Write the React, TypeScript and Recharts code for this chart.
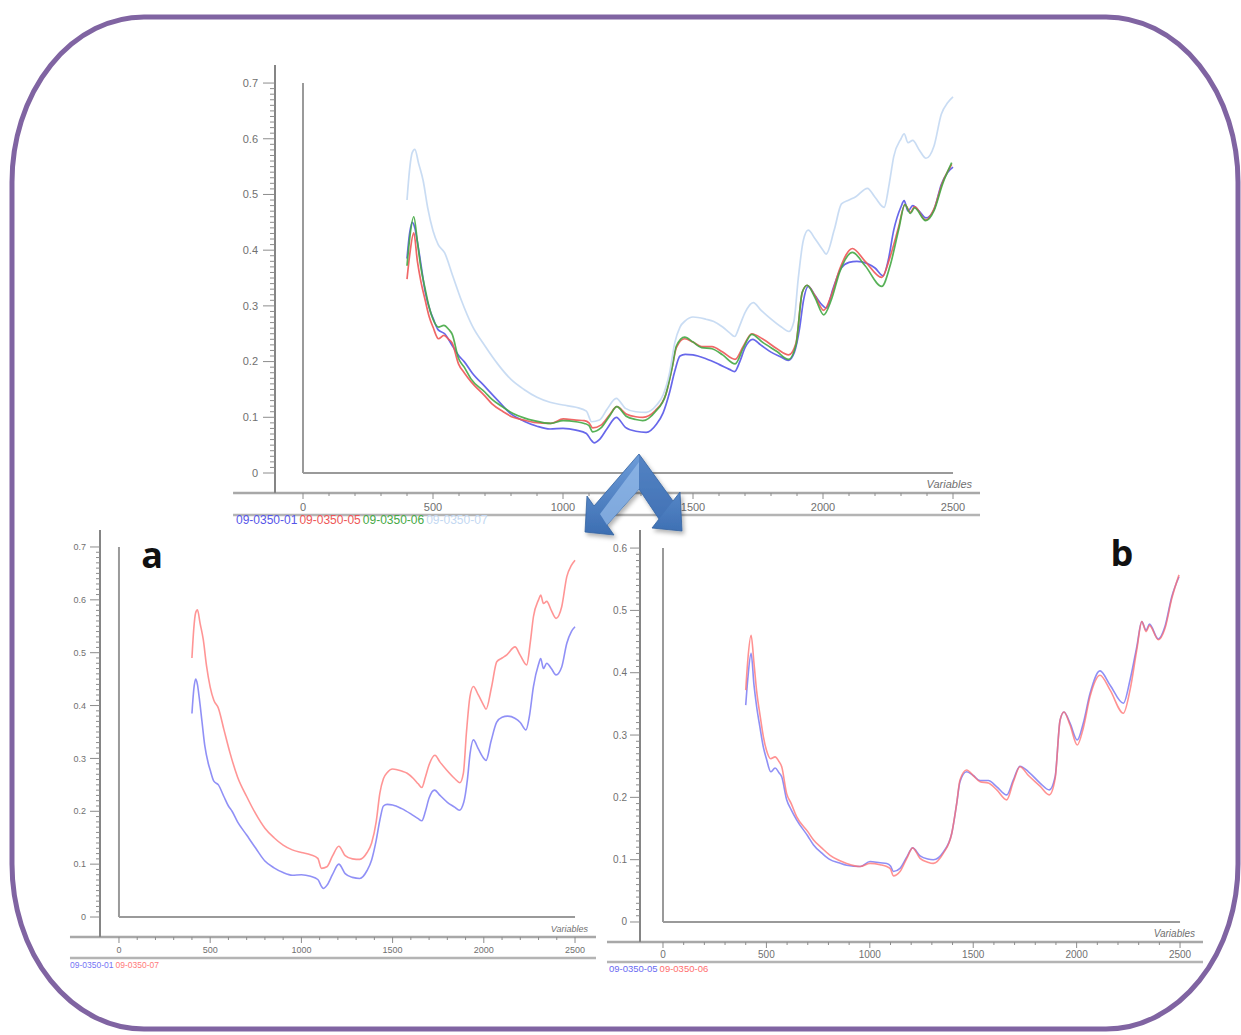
import React from 'react';
import { LineChart, Line, XAxis, YAxis, ReferenceLine, Legend, Label } from 'recharts';

// spectra (wavelength, absorbance)
const wl01 = [400, 410, 420, 430, 440, 455, 470, 490, 500, 520, 545, 575, 600, 620, 650, 700, 750, 800, 850, 900, 950, 1000, 1050, 1090, 1110, 1120, 1140, 1170, 1205, 1240, 1280, 1320, 1360, 1385, 1410, 1430, 1450, 1470, 1500, 1550, 1600, 1640, 1660, 1680, 1700, 1730, 1760, 1800, 1840, 1866, 1890, 1910, 1925, 1943, 1970, 2000, 2012, 2040, 2070, 2100, 2130, 2170, 2200, 2231, 2250, 2272, 2300, 2312, 2327, 2345, 2370, 2396, 2427, 2455, 2480, 2500];
const ab01 = [0.385, 0.43, 0.45, 0.44, 0.415, 0.37, 0.325, 0.29, 0.278, 0.257, 0.25, 0.228, 0.21, 0.2, 0.18, 0.155, 0.13, 0.106, 0.093, 0.084, 0.079, 0.08, 0.077, 0.071, 0.058, 0.054, 0.06, 0.08, 0.1, 0.082, 0.075, 0.073, 0.088, 0.108, 0.145, 0.183, 0.21, 0.213, 0.212, 0.205, 0.195, 0.186, 0.182, 0.2, 0.225, 0.24, 0.23, 0.217, 0.208, 0.202, 0.217, 0.26, 0.31, 0.335, 0.318, 0.3, 0.296, 0.333, 0.368, 0.378, 0.38, 0.376, 0.368, 0.354, 0.38, 0.436, 0.478, 0.489, 0.47, 0.48, 0.47, 0.458, 0.473, 0.518, 0.54, 0.549];

const wl07 = [400, 410, 420, 430, 445, 462, 480, 500, 520, 545, 575, 609, 650, 700, 750, 800, 850, 900, 950, 1000, 1050, 1090, 1110, 1140, 1170, 1205, 1240, 1280, 1320, 1360, 1385, 1410, 1430, 1450, 1470, 1500, 1550, 1580, 1614, 1640, 1660, 1680, 1700, 1732, 1760, 1796, 1840, 1869, 1888, 1905, 1924, 1943, 1970, 2000, 2012, 2043, 2071, 2100, 2126, 2171, 2200, 2235, 2255, 2272, 2300, 2312, 2327, 2345, 2370, 2396, 2427, 2455, 2480, 2500];
const ab07 = [0.49, 0.545, 0.575, 0.581, 0.555, 0.525, 0.475, 0.435, 0.41, 0.395, 0.355, 0.31, 0.265, 0.228, 0.195, 0.168, 0.15, 0.136, 0.127, 0.122, 0.118, 0.111, 0.092, 0.095, 0.115, 0.134, 0.116, 0.11, 0.109, 0.122, 0.14, 0.18, 0.234, 0.262, 0.273, 0.28, 0.276, 0.272, 0.262, 0.252, 0.245, 0.265, 0.288, 0.306, 0.293, 0.278, 0.262, 0.254, 0.272, 0.35, 0.417, 0.436, 0.42, 0.4, 0.393, 0.436, 0.483, 0.49, 0.496, 0.511, 0.495, 0.477, 0.52, 0.568, 0.6, 0.609, 0.593, 0.597, 0.58, 0.565, 0.587, 0.644, 0.665, 0.675];

const wl56 = [400, 410, 426, 440, 453, 470, 485, 500, 521, 542, 560, 574, 598, 620, 646, 700, 727, 770, 808, 850, 888, 953, 1001, 1050, 1082, 1100, 1114, 1146, 1180, 1207, 1243, 1280, 1307, 1355, 1396, 1420, 1436, 1468, 1500, 1533, 1573, 1614, 1662, 1694, 1726, 1767, 1823, 1868, 1896, 1920, 1939, 1968, 2003, 2032, 2065, 2113, 2162, 2226, 2258, 2291, 2315, 2336, 2352, 2395, 2427, 2460, 2495];
const ab05 = [0.348, 0.39, 0.431, 0.38, 0.345, 0.31, 0.281, 0.262, 0.241, 0.247, 0.24, 0.233, 0.196, 0.18, 0.164, 0.138, 0.124, 0.11, 0.1, 0.095, 0.091, 0.089, 0.097, 0.095, 0.094, 0.09, 0.081, 0.086, 0.105, 0.119, 0.106, 0.101, 0.1, 0.112, 0.142, 0.19, 0.225, 0.241, 0.235, 0.227, 0.227, 0.217, 0.204, 0.228, 0.25, 0.241, 0.223, 0.212, 0.233, 0.324, 0.337, 0.319, 0.292, 0.319, 0.367, 0.403, 0.38, 0.351, 0.388, 0.442, 0.482, 0.468, 0.478, 0.454, 0.474, 0.522, 0.554];
const ab06 = [0.372, 0.42, 0.46, 0.415, 0.37, 0.33, 0.298, 0.276, 0.262, 0.265, 0.258, 0.249, 0.206, 0.19, 0.169, 0.145, 0.132, 0.118, 0.107, 0.099, 0.094, 0.089, 0.094, 0.092, 0.089, 0.085, 0.074, 0.081, 0.103, 0.119, 0.102, 0.096, 0.094, 0.11, 0.142, 0.19, 0.228, 0.244, 0.235, 0.225, 0.223, 0.212, 0.196, 0.225, 0.249, 0.235, 0.218, 0.204, 0.23, 0.324, 0.337, 0.316, 0.284, 0.311, 0.362, 0.396, 0.372, 0.335, 0.372, 0.437, 0.482, 0.466, 0.476, 0.453, 0.471, 0.519, 0.557];

const names = ['09-0350-01', '09-0350-05', '09-0350-06', '09-0350-07'];

// ticks: every 100 on x (labels at 500s), every 0.01 on y (labels at 0.1s)
const xTicks = [0, 100, 200, 300, 400, 500, 600, 700, 800, 900, 1000, 1100, 1200, 1300, 1400, 1500, 1600, 1700, 1800, 1900, 2000, 2100, 2200, 2300, 2400, 2500];
const yTicks07 = Array.from({ length: 71 }, (_, i) => i / 100);
const yTicks06 = Array.from({ length: 61 }, (_, i) => i / 100);

const FONT = "'Liberation Sans', Arial, sans-serif";

const pts = (wl: number[], ab: number[]) => wl.map((x, i) => ({ x, y: ab[i] }));

type Series = { name: string; color: string; pts: { x: number; y: number }[] };

type PanelProps = {
  left: number; top: number; width: number; height: number;
  margin: { top: number; right: number; bottom: number; left: number };
  yAxisWidth: number; xAxisHeight: number;
  xDomain: [number, number]; yDomain: [number, number];
  yTop: number; xExt: number; yLow: number;
  yTicks: number[];
  fs: number; legendFs: number;
  yMajorLen: number; yMinorLen: number; yLabelGap: number; xLabelDy: number;
  legendLeft: number; legendTop: number;
  series: Series[]; lineWidth: number; opacity: number;
};

function Panel(p: PanelProps) {
  const YTick = (t: any) => {
    const h = Math.round(t.payload.value * 100);
    const major = h % 10 === 0;
    return (
      <g>
        <line x1={t.x} x2={t.x - (major ? p.yMajorLen : p.yMinorLen)} y1={t.y} y2={t.y} stroke="#8c8c8c" strokeWidth={1} />
        {major && (
          <text x={t.x - p.yMajorLen - p.yLabelGap} y={t.y} dy="0.35em" textAnchor="end" fontSize={p.fs} fill="#707070" fontFamily={FONT}>
            {h === 0 ? '0' : (h / 100).toFixed(1)}
          </text>
        )}
      </g>
    );
  };

  const XTick = (t: any) => {
    const v = t.payload.value as number;
    const major = v % 500 === 0;
    return (
      <g>
        <line x1={t.x} x2={t.x} y1={t.y} y2={t.y + (major ? 6 : 3)} stroke="#8c8c8c" strokeWidth={1} />
        {major && (
          <text x={t.x} y={t.y + p.xLabelDy} textAnchor="middle" fontSize={p.fs} fill="#707070" fontFamily={FONT}>
            {v}
          </text>
        )}
      </g>
    );
  };

  return (
    <div style={{ position: 'absolute', left: p.left, top: p.top }}>
      <LineChart width={p.width} height={p.height} margin={p.margin}>
        <XAxis
          dataKey="x"
          type="number"
          domain={p.xDomain}
          allowDataOverflow
          ticks={xTicks}
          interval={0}
          tick={XTick}
          tickLine={false}
          tickSize={0}
          tickMargin={0}
          axisLine={false}
          height={p.xAxisHeight}
        >
          <Label
            content={(lp: any) => (
              <text
                x={lp.viewBox.x + lp.viewBox.width - 8}
                y={lp.viewBox.y - 5}
                textAnchor="end"
                fontSize={p.fs}
                fontStyle="italic"
                fill="#707070"
                fontFamily={FONT}
              >
                Variables
              </text>
            )}
          />
        </XAxis>
        <YAxis
          type="number"
          domain={p.yDomain}
          allowDataOverflow
          ticks={p.yTicks}
          interval={0}
          tick={YTick}
          tickLine={false}
          tickSize={0}
          tickMargin={0}
          axisLine={{ stroke: '#858585', strokeWidth: 2 }}
          width={p.yAxisWidth}
        />
        {/* outer axis band lines */}
        <ReferenceLine
          segment={[{ x: p.xExt, y: p.yDomain[0] }, { x: p.xDomain[1], y: p.yDomain[0] }]}
          stroke="#a8a8a8"
          strokeWidth={2.5}
          ifOverflow="visible"
        />
        <ReferenceLine
          segment={[{ x: p.xExt, y: p.yLow }, { x: p.xDomain[1], y: p.yLow }]}
          stroke="#b4b4b4"
          strokeWidth={2.5}
          ifOverflow="visible"
        />
        {/* inner frame */}
        <ReferenceLine segment={[{ x: 0, y: 0 }, { x: 0, y: p.yTop }]} stroke="#9a9a9a" strokeWidth={2} ifOverflow="visible" />
        <ReferenceLine segment={[{ x: 0, y: 0 }, { x: 2500, y: 0 }]} stroke="#9a9a9a" strokeWidth={2} ifOverflow="visible" />
        <Legend
          layout="horizontal"
          verticalAlign="middle"
          align="center"
          wrapperStyle={{ left: p.legendLeft, top: p.legendTop, width: 'auto' }}
          content={(lp: any) => (
            <div style={{ display: 'flex', fontFamily: FONT, fontSize: p.legendFs, whiteSpace: 'nowrap', lineHeight: 1 }}>
              {(lp.payload || []).map((e: any) => (
                <span key={e.value} style={{ color: e.color, marginRight: 2 }}>
                  {e.value}
                </span>
              ))}
            </div>
          )}
        />
        {p.series.map((s) => (
          <Line
            key={s.name}
            data={s.pts}
            dataKey="y"
            name={s.name}
            type="monotone"
            stroke={s.color}
            strokeWidth={p.lineWidth}
            strokeOpacity={p.opacity}
            dot={false}
            activeDot={false}
            isAnimationActive={false}
          />
        ))}
      </LineChart>
    </div>
  );
}

export default function App() {
  const s01 = pts(wl01, ab01);
  const s05 = pts(wl56, ab05);
  const s06 = pts(wl56, ab06);
  const s07 = pts(wl07, ab07);

  return (
    <div style={{ position: 'absolute', left: 0, top: 0, width: 1241, height: 1035, background: '#fff', overflow: 'hidden' }}>
      <svg style={{ position: 'absolute', left: 0, top: 0 }} width={1241} height={1035}>
        <rect x={12} y={17} width={1226} height={1012} rx={132} ry={165} fill="none" stroke="#8064a2" strokeWidth={5} />
      </svg>

      <Panel
        left={200} top={40} width={800} height={500}
        margin={{ top: 25, right: 20, bottom: 17, left: 25 }}
        yAxisWidth={50} xAxisHeight={30}
        xDomain={[-107.7, 2603.8]} yDomain={[-0.0359, 0.7324]}
        yTop={0.7} xExt={-269} yLow={-0.0754}
        yTicks={yTicks07}
        fs={11} legendFs={12}
        yMajorLen={12} yMinorLen={5} yLabelGap={5} xLabelDy={18}
        legendLeft={36} legendTop={474}
        lineWidth={1.7} opacity={0.9}
        series={[
          { name: names[0], color: '#5656e8', pts: s01 },
          { name: names[1], color: '#ee5656', pts: s05 },
          { name: names[2], color: '#45a845', pts: s06 },
          { name: names[3], color: '#c3d8f2', pts: s07 },
        ]}
      />

      <Panel
        left={40} top={510} width={580} height={470}
        margin={{ top: 20, right: 24, bottom: 18, left: 20 }}
        yAxisWidth={40} xAxisHeight={25}
        xDomain={[-104, 2615]} yDomain={[-0.0378, 0.7321]}
        yTop={0.7} xExt={-268.6} yLow={-0.0776}
        yTicks={yTicks07}
        fs={9} legendFs={8.5}
        yMajorLen={10} yMinorLen={4} yLabelGap={4} xLabelDy={16}
        legendLeft={30} legendTop={451}
        lineWidth={1.6} opacity={0.8}
        series={[
          { name: names[0], color: '#7474f4', pts: s01 },
          { name: names[3], color: '#ff7a7a', pts: s07 },
        ]}
      />

      <Panel
        left={590} top={510} width={640} height={470}
        margin={{ top: 20, right: 27, bottom: 13, left: 10 }}
        yAxisWidth={40} xAxisHeight={25}
        xDomain={[-111.2, 2611]} yDomain={[-0.0321, 0.629]}
        yTop={0.6} xExt={-270.8} yLow={-0.0642}
        yTicks={yTicks06}
        fs={10} legendFs={9.5}
        yMajorLen={10} yMinorLen={4} yLabelGap={3} xLabelDy={16}
        legendLeft={19} legendTop={454}
        lineWidth={1.6} opacity={0.75}
        series={[
          { name: names[1], color: '#6a6af2', pts: s05 },
          { name: names[2], color: '#ff6e6e', pts: s06 },
        ]}
      />

      <svg style={{ position: 'absolute', left: 0, top: 0, pointerEvents: 'none' }} width={1241} height={1035}>
        <defs>
          <linearGradient id="arrowGrad" x1="0" y1="0" x2="0" y2="1">
            <stop offset="0" stopColor="#6d9cd9" />
            <stop offset="1" stopColor="#3c6eb2" />
          </linearGradient>
          <filter id="arrowShadow" x="-20%" y="-20%" width="140%" height="140%">
            <feDropShadow dx="2" dy="3" stdDeviation="2" floodColor="#000" floodOpacity="0.3" />
          </filter>
        </defs>
        <g filter="url(#arrowShadow)">
          <polygon
            points="639,454 673,501 680,492 682,531 652,528 659,519 639,489 607,525 614,535 585,532 587,496 594,506"
            fill="url(#arrowGrad)"
            stroke="#3563a0"
            strokeWidth={0.8}
          />
          <polygon points="639,462 639,489 607,525 600,514" fill="#93b9e8" opacity={0.75} />
          <polygon points="639,454 673,501 659,519 639,489" fill="#3f70b3" opacity={0.55} />
        </g>
        <text x={152} y={568} textAnchor="middle" fontFamily="'Open Sans', sans-serif" fontWeight={700} fontSize={36} fill="#111">
          a
        </text>
        <text x={1122} y={566} textAnchor="middle" fontFamily="'Open Sans', sans-serif" fontWeight={700} fontSize={36} fill="#111">
          b
        </text>
      </svg>
    </div>
  );
}
